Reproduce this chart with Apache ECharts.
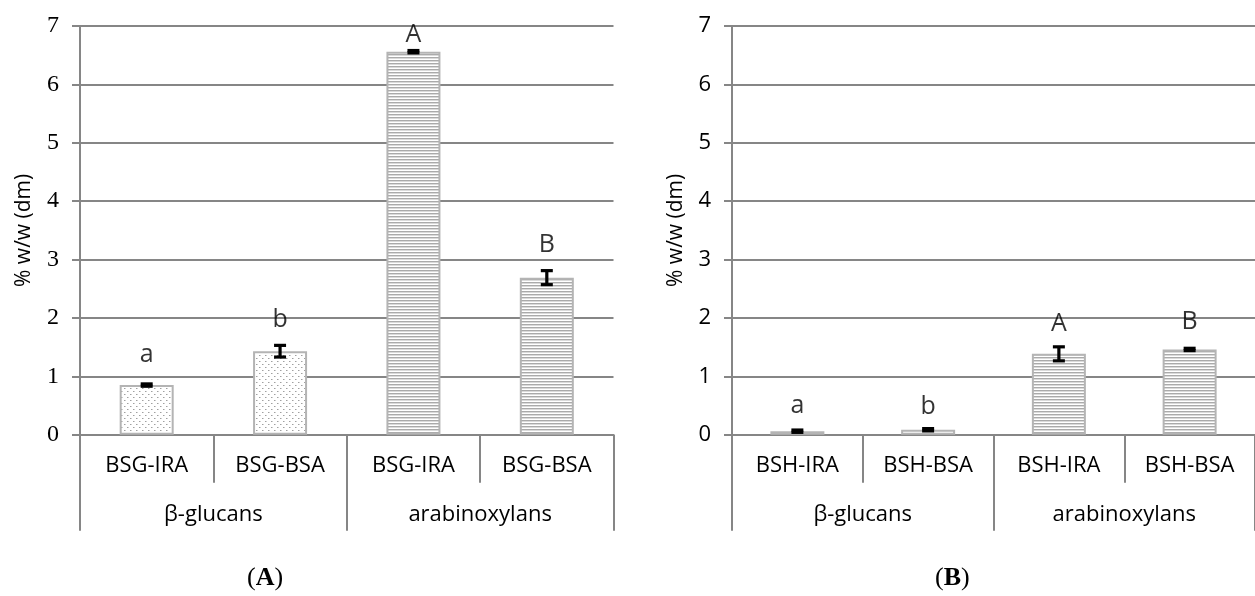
<!DOCTYPE html>
<html>
<head>
<meta charset="utf-8">
<script src="https://cdn.jsdelivr.net/npm/echarts@6/dist/echarts.min.js"></script>
<style>
html,body{margin:0;padding:0;background:#fff;}
#chart{width:1255px;height:596px;}
</style>
</head>
<body>
<div id="chart"></div>
<script>
// ---- data ----
const catsA = ['BSG-IRA', 'BSG-BSA', 'BSG-IRA', 'BSG-BSA'];
const catsB = ['BSH-IRA', 'BSH-BSA', 'BSH-IRA', 'BSH-BSA'];
const groupNames = ['β-glucans', 'arabinoxylans'];
const groupOfBar = [0, 0, 1, 1];
const valuesA = [0.85, 1.43, 6.56, 2.69];
const errorsA = [0.02, 0.10, 0.02, 0.12];
const lettersA = ['a', 'b', 'A', 'B'];
const letterPosA = [1.36, 1.96, 6.84, 3.25];
const valuesB = [0.06, 0.085, 1.385, 1.46];
const errorsB = [0.02, 0.02, 0.12, 0.02];
const lettersB = ['a', 'b', 'A', 'B'];
const letterPosB = [0.50, 0.47, 1.90, 1.93];
const yTicks = [0, 1, 2, 3, 4, 5, 6, 7];
const panelLabels = ['A', 'B'];

// ---- patterns ----
function dotPattern() {
  const c = document.createElement('canvas');
  c.width = 6; c.height = 6;
  const g = c.getContext('2d');
  g.fillStyle = '#ffffff'; g.fillRect(0, 0, 6, 6);
  g.fillStyle = '#a0a0a0';
  g.fillRect(1, 1, 1, 1); g.fillRect(4, 4, 1, 1);
  g.fillStyle = '#d0d0d0';
  g.fillRect(2, 1, 1, 1); g.fillRect(5, 4, 1, 1);
  return c;
}
function stripePattern() {
  const c = document.createElement('canvas');
  c.width = 4; c.height = 3;
  const g = c.getContext('2d');
  g.fillStyle = '#ffffff'; g.fillRect(0, 0, 4, 3);
  g.fillStyle = '#aaaaaa'; g.fillRect(0, 0, 4, 1);
  g.fillStyle = '#dadada'; g.fillRect(0, 1, 4, 1);
  return c;
}
const patterns = [
  { image: dotPattern(), repeat: 'repeat' },
  { image: stripePattern(), repeat: 'repeat' }
];

const GREY = '#868686';
const TXT = '#000000';
const SANS = '"Open Sans", "DejaVu Sans", sans-serif';
const SERIF = '"Liberation Serif", "DejaVu Serif", serif';

const plotTop = 26, plotH = 408.7, plotW = 533.5;
const gridLefts = [80, 732];

const chart = echarts.init(document.getElementById('chart'), null, { renderer: 'canvas' });

function makePanel(idx, cats, values, errors, letters, letterPos, yFont, ySize) {
  const xBase = idx * 2;
  const grid = { left: gridLefts[idx], top: plotTop, width: plotW, height: plotH };
  const xAxes = [
    {
      type: 'category', gridIndex: idx, data: cats, position: 'bottom',
      axisLine: { show: true, lineStyle: { color: GREY, width: 2 } },
      axisTick: { show: true, length: 48, alignWithLabel: false, lineStyle: { color: GREY, width: 2 } },
      axisLabel: { margin: 20, fontSize: 22, color: TXT, fontFamily: SANS, interval: 0 },
      splitLine: { show: false }
    },
    {
      type: 'category', gridIndex: idx, data: groupNames, position: 'bottom', offset: 48,
      axisLine: { show: false },
      axisTick: { show: true, length: 48, alignWithLabel: false, lineStyle: { color: GREY, width: 2 } },
      axisLabel: { margin: 21, fontSize: 22, color: TXT, fontFamily: SANS, interval: 0 },
      splitLine: { show: false }
    }
  ];
  const yAxis = {
    type: 'value', gridIndex: idx, min: 0, max: 7, interval: 1,
    name: '% w/w (dm)', nameLocation: 'middle', nameGap: 45, nameRotate: 90,
    nameTextStyle: { fontSize: 21, color: TXT, fontFamily: SANS },
    axisLine: { show: true, lineStyle: { color: GREY, width: 2 } },
    axisTick: { show: true, length: 8, lineStyle: { color: GREY, width: 2 } },
    axisLabel: { margin: 21, fontSize: ySize, color: TXT, fontFamily: yFont,
      formatter: v => yTicks.includes(v) ? String(v) : '' },
    splitLine: { show: true, lineStyle: { color: GREY, width: 2 } }
  };
  const series = [
    {
      type: 'bar', xAxisIndex: xBase, yAxisIndex: idx, barWidth: 54,
      data: values.map((v, i) => ({
        value: v,
        itemStyle: { color: patterns[groupOfBar[i]], borderColor: '#b4b4b4', borderWidth: 2 }
      })),
      z: 2
    },
    {
      type: 'custom', xAxisIndex: xBase, yAxisIndex: idx, z: 5,
      data: values.map((v, i) => [i, v, errors[i]]),
      renderItem: function (params, api) {
        const x = api.value(0), m = api.value(1), e = api.value(2);
        const top = api.coord([x, m + e]);
        const bot = api.coord([x, m - e]);
        const hw = 6;
        const style = { stroke: '#000', lineWidth: 3.2 };
        return {
          type: 'group',
          children: [
            { type: 'line', shape: { x1: top[0], y1: top[1], x2: bot[0], y2: bot[1] }, style: style },
            { type: 'line', shape: { x1: top[0] - hw, y1: top[1], x2: top[0] + hw, y2: top[1] }, style: style },
            { type: 'line', shape: { x1: bot[0] - hw, y1: bot[1], x2: bot[0] + hw, y2: bot[1] }, style: style }
          ]
        };
      }
    },
    {
      type: 'scatter', xAxisIndex: xBase, yAxisIndex: idx, symbolSize: 1,
      itemStyle: { color: 'rgba(0,0,0,0)' },
      data: letterPos.map((p, i) => ({ value: [i, p], name: letters[i] })),
      label: { show: true, position: 'inside', formatter: p => p.name,
        fontSize: 25, color: TXT, fontFamily: SANS },
      z: 6
    }
  ];
  return { grid, xAxes, yAxis, series };
}

const pA = makePanel(0, catsA, valuesA, errorsA, lettersA, letterPosA, SERIF, 24);
const pB = makePanel(1, catsB, valuesB, errorsB, lettersB, letterPosB, SANS, 22);

chart.setOption({
  animation: false,
  backgroundColor: '#ffffff',
  grid: [pA.grid, pB.grid],
  xAxis: [...pA.xAxes, ...pB.xAxes],
  yAxis: [pA.yAxis, pB.yAxis],
  series: [...pA.series, ...pB.series],
  graphic: panelLabels.map((t, i) => ({
    type: 'text',
    left: [247, 935][i],
    top: 565,
    style: {
      text: '{p|(}{b|' + t + '}{p|)}',
      rich: {
        p: { fontFamily: SERIF, fontSize: 26, fill: '#000' },
        b: { fontFamily: SERIF, fontSize: 26, fontWeight: 'bold', fill: '#000' }
      }
    }
  }))
});
</script>
</body>
</html>
